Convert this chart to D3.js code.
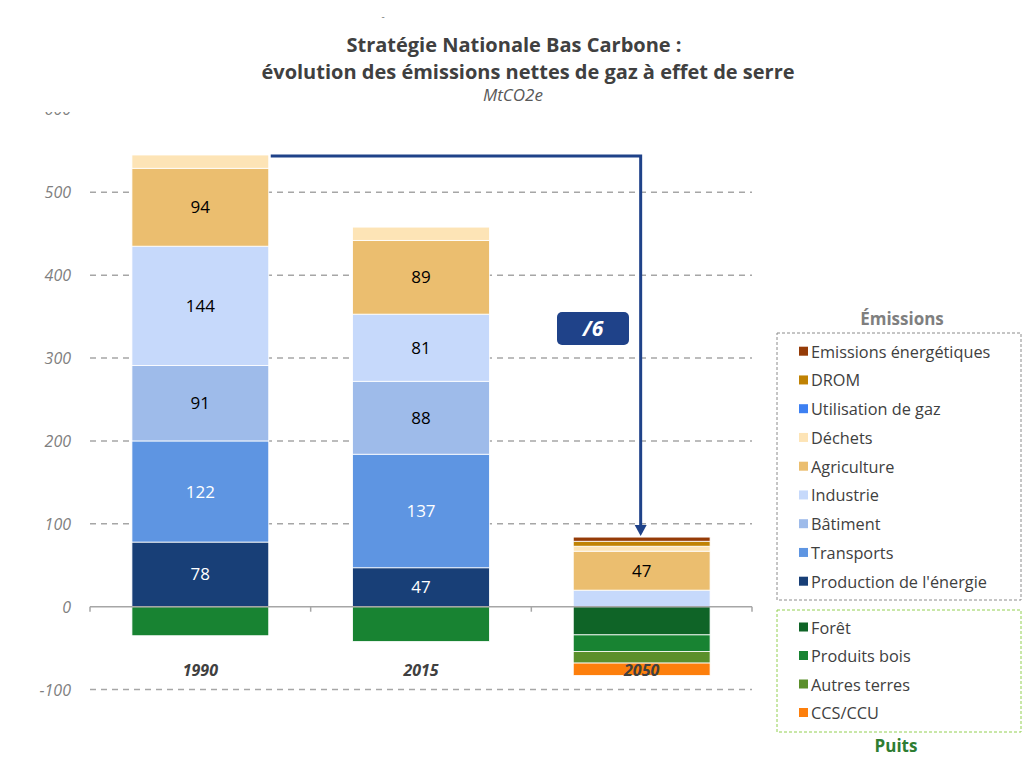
<!DOCTYPE html>
<html>
<head>
<meta charset="utf-8">
<script src="https://cdn.jsdelivr.net/npm/d3@7/dist/d3.min.js"></script>
<style>
  html, body { margin: 0; padding: 0; background: #fff; }
  svg { display: block; font-family: "Open Sans", "Lato", sans-serif; }
</style>
</head>
<body>
<svg id="chart" width="1024" height="770"></svg>
<script>
// ---------- Data ----------
const years = ["1990", "2015", "2050"];

// Emissions (stacked bottom -> top)
const production   = [78, 47, 0];
const transports   = [122, 137, 0];
const batiment     = [91, 88, 0];
const industrie    = [144, 81, 20];
const agriculture  = [94, 89, 47];
const dechets      = [16, 16, 6];
const gaz          = [0, 0, 0];
const drom         = [0, 0, 6];
const energetiques = [0, 0, 5];

// Sinks (negative, stacked top -> bottom)
const foret        = [0, 0, -34];
const produitsBois = [-35, -42, -20];
const autresTerres = [0, 0, -14];
const ccs          = [0, 0, -15];

const yTicks = [-100, 0, 100, 200, 300, 400, 500, 600];

const emissionSeries = [
  { key: "Production de l'énergie", values: production,   color: "#183f77", label: "#ffffff" },
  { key: "Transports",              values: transports,   color: "#5e95e2", label: "#ffffff" },
  { key: "Bâtiment",                values: batiment,     color: "#9ebbea", label: "#000000" },
  { key: "Industrie",               values: industrie,    color: "#c6d9fb", label: "#000000" },
  { key: "Agriculture",             values: agriculture,  color: "#ebbe6f", label: "#000000" },
  { key: "Déchets",                 values: dechets,      color: "#fde4b6", label: "#000000" },
  { key: "Utilisation de gaz",      values: gaz,          color: "#3d80f2", label: "#ffffff" },
  { key: "DROM",                    values: drom,         color: "#c08203", label: "#ffffff" },
  { key: "Emissions énergétiques",  values: energetiques, color: "#953b07", label: "#ffffff" }
];
const sinkSeries = [
  { key: "Forêt",         values: foret,        color: "#0f6427" },
  { key: "Produits bois", values: produitsBois, color: "#188332" },
  { key: "Autres terres", values: autresTerres, color: "#5b8f2b" },
  { key: "CCS/CCU",       values: ccs,          color: "#fd7f0c" }
];

// ---------- Layout ----------
const svg = d3.select("#chart");
const plotLeft = 90, plotRight = 752;
const y = d3.scaleLinear().domain([-100, 500]).range([689.6, 192.3]);
const x = d3.scaleBand().domain(years).range([plotLeft, plotRight])
  .paddingInner(0.38).paddingOuter(0.19);

// ---------- Y tick labels + dashed grid ----------
const gGrid = svg.append("g");
yTicks.filter(t => t !== 0).forEach(t => {
  gGrid.append("line")
    .attr("x1", plotLeft).attr("x2", plotRight)
    .attr("y1", y(t)).attr("y2", y(t))
    .attr("stroke", "#a6a6a6").attr("stroke-width", 1.5)
    .attr("stroke-dasharray", "6,5");
});
svg.append("g").selectAll("text").data(yTicks).join("text")
  .attr("x", 71).attr("y", d => y(d) + 6)
  .attr("text-anchor", "end")
  .attr("font-size", 16).attr("font-style", "italic")
  .attr("fill", "#7f7f7f")
  .text(d => d);

// ---------- Stacked bars ----------
const rows = years.map((yr, i) => {
  const r = { year: yr };
  emissionSeries.forEach(s => r[s.key] = s.values[i]);
  sinkSeries.forEach(s => r[s.key] = s.values[i]);
  return r;
});
const allSeries = emissionSeries.concat(sinkSeries);
const stack = d3.stack().keys(allSeries.map(s => s.key)).offset(d3.stackOffsetDiverging);
const stacked = stack(rows);
const colorOf = {}; allSeries.forEach(s => colorOf[s.key] = s.color);

const gBars = svg.append("g");
stacked.forEach(layer => {
  gBars.append("g").selectAll("rect").data(layer.filter(d => d[1] - d[0] !== 0)).join("rect")
    .attr("x", d => x(d.data.year))
    .attr("width", x.bandwidth())
    .attr("y", d => y(Math.max(d[0], d[1])))
    .attr("height", d => Math.abs(y(d[0]) - y(d[1])))
    .attr("fill", colorOf[layer.key])
    .attr("stroke", "#ffffff").attr("stroke-width", 0.8);
});

// value labels
emissionSeries.forEach((s, si) => {
  const layer = stacked[si];
  layer.forEach(d => {
    const v = d[1] - d[0];
    if (v >= 30) {
      svg.append("text")
        .attr("x", x(d.data.year) + x.bandwidth() / 2)
        .attr("y", y((d[0] + d[1]) / 2) + 6)
        .attr("text-anchor", "middle")
        .attr("font-size", 17)
        .attr("fill", s.label)
        .text(v);
    }
  });
});

// ---------- Zero axis ----------
svg.append("line")
  .attr("x1", plotLeft).attr("x2", plotRight)
  .attr("y1", y(0)).attr("y2", y(0))
  .attr("stroke", "#a6a6a6").attr("stroke-width", 1.5);
const boundaries = [plotLeft].concat(years.map(yr => x(yr) + x.bandwidth() + x.step() * 0.19));
boundaries.forEach(bx => {
  svg.append("line").attr("x1", bx).attr("x2", bx)
    .attr("y1", y(0)).attr("y2", y(0) + 5)
    .attr("stroke", "#a6a6a6").attr("stroke-width", 1.5);
});

// category labels
svg.append("g").selectAll("text").data(years).join("text")
  .attr("x", d => x(d) + x.bandwidth() / 2)
  .attr("y", 676)
  .attr("text-anchor", "middle")
  .attr("font-size", 16).attr("font-weight", "bold").attr("font-style", "italic")
  .attr("fill", "#404040")
  .text(d => d);

// ---------- Top cover (clips the 600 area) ----------
svg.append("rect").attr("x", 0).attr("y", 0).attr("width", 770).attr("height", 112).attr("fill", "#fff");

// ---------- Arrow ----------
const total1990 = d3.sum(emissionSeries, s => s.values[0]);
const total2050 = d3.sum(emissionSeries, s => s.values[2]);
const arrowX = x("2050") + x.bandwidth() / 2 - 1;
const navy = "#1f4289";
svg.append("path")
  .attr("d", `M${x("1990") + x.bandwidth() + 2},${y(total1990) + 1} H${arrowX} V${y(total2050) - 10}`)
  .attr("fill", "none").attr("stroke", navy).attr("stroke-width", 3);
svg.append("path")
  .attr("d", `M${arrowX - 6},${y(total2050) - 12} L${arrowX + 6},${y(total2050) - 12} L${arrowX},${y(total2050) - 1} Z`)
  .attr("fill", navy);

// "/6" badge
svg.append("rect").attr("x", 557).attr("y", 312).attr("width", 72).attr("height", 33)
  .attr("rx", 5).attr("fill", "#1f4289");
svg.append("text").attr("x", 593).attr("y", 336).attr("text-anchor", "middle")
  .attr("font-size", 21).attr("font-weight", "bold").attr("font-style", "italic")
  .attr("fill", "#fff").text("/6");

// ---------- Titles ----------
svg.append("text").attr("x", 383).attr("y", 20).attr("text-anchor", "middle")
  .attr("font-size", 10).attr("fill", "#7f7f7f").text("-");
svg.append("text").attr("x", 514).attr("y", 52).attr("text-anchor", "middle")
  .attr("font-size", 20).attr("font-weight", "bold").attr("fill", "#404040")
  .text("Stratégie Nationale Bas Carbone :");
svg.append("text").attr("x", 528).attr("y", 79).attr("text-anchor", "middle")
  .attr("font-size", 20).attr("font-weight", "bold").attr("fill", "#404040")
  .text("évolution des émissions nettes de gaz à effet de serre");
svg.append("text").attr("x", 513).attr("y", 101).attr("text-anchor", "middle")
  .attr("font-size", 17).attr("font-style", "italic").attr("fill", "#595959")
  .text("MtCO2e");

// ---------- Legends ----------
svg.append("text").attr("x", 902).attr("y", 325).attr("text-anchor", "middle")
  .attr("font-size", 17).attr("font-weight", "bold").attr("fill", "#7f7f7f").text("Émissions");
svg.append("rect").attr("x", 777).attr("y", 333).attr("width", 244).attr("height", 267)
  .attr("fill", "none").attr("stroke", "#8c8c8c").attr("stroke-width", 1).attr("stroke-dasharray", "3,2");
const emLegend = emissionSeries.slice().reverse();
emLegend.forEach((s, i) => {
  const cy = 351.7 + i * 28.75;
  svg.append("rect").attr("x", 799).attr("y", cy - 5).attr("width", 9).attr("height", 9).attr("fill", s.color);
  svg.append("text").attr("x", 811).attr("y", cy + 6)
    .attr("font-size", 16.3).attr("fill", "#404040").text(s.key);
});

svg.append("rect").attr("x", 777).attr("y", 610).attr("width", 244).attr("height", 122)
  .attr("fill", "none").attr("stroke", "#92d050").attr("stroke-width", 1).attr("stroke-dasharray", "3,2");
sinkSeries.forEach((s, i) => {
  const cy = 627.5 + i * 28.5;
  svg.append("rect").attr("x", 799).attr("y", cy - 5).attr("width", 9).attr("height", 9).attr("fill", s.color);
  svg.append("text").attr("x", 811).attr("y", cy + 6)
    .attr("font-size", 16.3).attr("fill", "#404040").text(s.key);
});
svg.append("text").attr("x", 896).attr("y", 752).attr("text-anchor", "middle")
  .attr("font-size", 17).attr("font-weight", "bold").attr("fill", "#2e7d32").text("Puits");
</script>
</body>
</html>
